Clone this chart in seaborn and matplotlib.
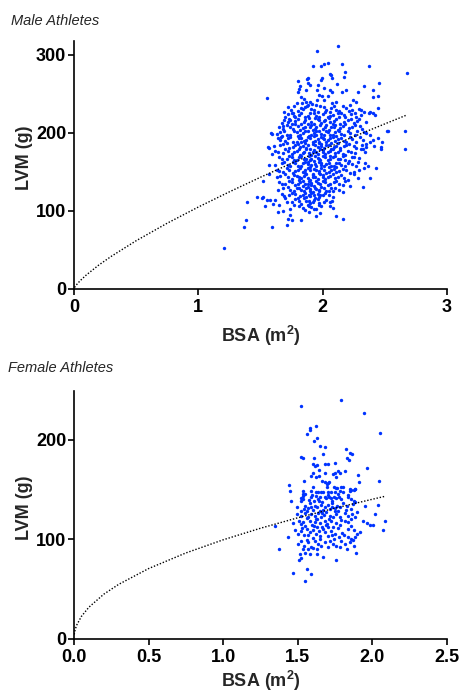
import matplotlib
matplotlib.use("Agg")
import matplotlib.pyplot as plt
import pandas as pd
import seaborn as sns

# LVM vs BSA, athletes

male_points = [
    # outer / sparse points
    (1.206, 52), (1.367, 80), (1.383, 89), (1.388, 112), (1.47, 118), (1.51, 117), (1.522, 118), (1.535, 106),
    (1.549, 114), (1.576, 114), (1.594, 80), (1.602, 109), (1.616, 114), (1.643, 99), (1.651, 108), (1.683, 100),
    (1.710, 82), (1.723, 90), (1.736, 95), (1.750, 88), (1.825, 88), (1.891, 99), (1.945, 93), (1.977, 97),
    (2.111, 94), (2.165, 90), (2.085, 104), (2.058, 111), (2.072, 113), (2.085, 125), (2.160, 124), (2.224, 132),
    (2.326, 131), (2.382, 142), (2.283, 142), (2.256, 147), (2.334, 155), (2.366, 158), (2.251, 169), (2.286, 163),
    (2.326, 180), (2.347, 182), (2.379, 188), (2.414, 183), (2.473, 180), (2.478, 188), (2.663, 179), (2.524, 203),
    (2.663, 203), (2.682, 277), (2.446, 232), (2.111, 240), (2.079, 239), (2.058, 255), (2.079, 252), (2.152, 252),
    (2.186, 255), (2.446, 247), (2.406, 246), (2.288, 253), (2.406, 255), (2.334, 260), (2.454, 264), (2.117, 263),
    (2.066, 274), (2.074, 271), (2.170, 272), (2.178, 278), (2.374, 286), (2.152, 288), (2.125, 312),
    (1.522, 138), (1.568, 159), (1.570, 181), (1.589, 173), (1.551, 245), (1.589, 199), (1.951, 305),
    (1.562, 182), (1.570, 148), (1.583, 200),
    (1.924, 286), (1.986, 286), (2.012, 288), (2.044, 290), (1.884, 271), (1.876, 269), (1.991, 271), (1.983, 268),
    (1.959, 262), (2.058, 275), (1.803, 266), (1.881, 264), (1.897, 262), (1.822, 260), (1.811, 256), (1.801, 253),
    (1.870, 255), (1.956, 255), (2.010, 257), (1.972, 249), (1.991, 247), (2.047, 247), (2.010, 242), (1.951, 242),
    (1.830, 246), (1.851, 244), (1.865, 240), (1.838, 238), (1.897, 240), (1.911, 237), (1.875, 234), (1.825, 232),
    (1.720, 233), (1.690, 227), (1.744, 230), (1.758, 225), (1.768, 222), (1.736, 217), (1.718, 214), (1.683, 205),
    (1.670, 196), (1.662, 195),
    (2.325, 191), (2.352, 200), (2.339, 176), (2.405, 191), (2.419, 223), (2.379, 227), (2.405, 225), (2.312, 230),
    (2.245, 242), (2.271, 240), (2.446, 193), (2.473, 182), (2.432, 155), (2.521, 203),
    # main cloud
    (1.77, 235), (1.84, 231), (1.88, 236), (1.93, 229), (1.98, 234), (2.03, 230), (2.09, 235), (2.13, 228),
    (2.19, 232), (2.24, 229), (2.29, 231), (2.33, 227), (1.80, 228), (1.96, 227), (2.06, 227),
    (1.70, 221), (1.75, 226), (1.81, 223), (1.86, 220), (1.90, 225), (1.95, 222), (2.00, 224), (2.04, 220),
    (2.08, 223), (2.15, 226), (2.18, 221), (2.23, 224), (2.27, 220), (2.31, 223), (2.37, 225),
    (1.67, 213), (1.73, 218), (1.78, 215), (1.83, 212), (1.86, 217), (1.91, 214), (1.94, 219), (1.99, 213),
    (2.02, 217), (2.06, 214), (2.11, 218), (2.14, 212), (2.20, 216), (2.25, 213), (2.29, 218), (2.35, 214),
    (1.97, 216), (2.08, 212),
    (1.65, 207), (1.71, 210), (1.76, 205), (1.80, 209), (1.84, 206), (1.88, 211), (1.92, 204), (1.95, 208),
    (2.00, 205), (2.03, 210), (2.07, 207), (2.12, 204), (2.16, 209), (2.21, 206), (2.26, 210), (2.32, 205),
    (1.90, 207), (2.10, 210),
    (1.63, 199), (1.69, 203), (1.74, 197), (1.79, 201), (1.82, 198), (1.86, 203), (1.89, 196), (1.93, 200),
    (1.97, 202), (2.01, 197), (2.04, 201), (2.08, 198), (2.13, 202), (2.17, 197), (2.22, 200), (2.28, 203),
    (2.38, 198), (1.95, 197), (2.11, 196),
    (1.66, 191), (1.72, 194), (1.76, 189), (1.81, 193), (1.85, 190), (1.88, 195), (1.92, 188), (1.96, 192),
    (1.99, 195), (2.03, 189), (2.06, 193), (2.10, 190), (2.15, 194), (2.19, 189), (2.24, 192), (2.30, 195),
    (1.94, 190), (2.01, 192), (1.83, 188),
    (1.61, 183), (1.68, 186), (1.73, 181), (1.78, 185), (1.82, 182), (1.86, 187), (1.90, 180), (1.94, 184),
    (1.97, 187), (2.01, 181), (2.05, 185), (2.09, 182), (2.12, 187), (2.17, 183), (2.21, 186), (2.27, 181),
    (2.35, 186), (1.88, 184), (1.99, 183), (2.07, 180),
    (1.64, 175), (1.70, 179), (1.75, 173), (1.79, 177), (1.84, 174), (1.87, 179), (1.91, 172), (1.95, 176),
    (1.98, 179), (2.02, 173), (2.06, 177), (2.10, 174), (2.14, 178), (2.18, 172), (2.23, 176), (2.31, 179),
    (1.93, 178), (2.00, 175), (1.82, 172),
    (1.67, 167), (1.73, 171), (1.77, 165), (1.81, 169), (1.85, 166), (1.89, 171), (1.93, 164), (1.96, 168),
    (2.00, 171), (2.04, 165), (2.08, 169), (2.12, 166), (2.16, 170), (2.21, 164), (2.29, 168), (1.91, 167),
    (1.98, 165), (2.06, 171),
    (1.62, 159), (1.69, 163), (1.74, 157), (1.78, 161), (1.83, 158), (1.86, 163), (1.90, 156), (1.94, 160),
    (1.97, 163), (2.01, 157), (2.05, 161), (2.09, 158), (2.13, 162), (2.18, 157), (2.24, 160), (2.34, 162),
    (1.88, 160), (1.99, 159), (2.11, 156),
    (1.65, 151), (1.71, 155), (1.76, 149), (1.80, 153), (1.84, 150), (1.88, 155), (1.92, 148), (1.95, 152),
    (1.99, 155), (2.03, 149), (2.07, 153), (2.11, 150), (2.16, 154), (2.22, 149), (2.29, 152), (1.86, 152),
    (1.97, 149), (2.05, 156),
    (1.63, 143), (1.70, 147), (1.75, 141), (1.79, 145), (1.83, 142), (1.87, 147), (1.90, 140), (1.94, 144),
    (1.98, 147), (2.02, 141), (2.06, 145), (2.10, 142), (2.15, 146), (2.20, 140), (1.92, 146), (2.00, 143),
    (1.81, 140),
    (1.67, 135), (1.73, 139), (1.78, 133), (1.82, 137), (1.86, 134), (1.89, 139), (1.93, 132), (1.96, 136),
    (2.00, 139), (2.04, 133), (2.09, 137), (2.13, 134), (2.18, 138), (1.91, 136), (1.84, 132),
    (1.64, 127), (1.72, 131), (1.77, 125), (1.81, 129), (1.85, 126), (1.88, 131), (1.92, 124), (1.95, 128),
    (1.99, 131), (2.03, 125), (2.07, 129), (2.13, 127), (1.90, 128), (1.97, 125),
    (1.69, 119), (1.75, 123), (1.80, 117), (1.84, 121), (1.87, 118), (1.91, 123), (1.94, 116), (1.98, 120),
    (2.02, 123), (2.08, 118), (1.89, 120), (1.96, 122),
    (1.71, 111), (1.78, 115), (1.83, 109), (1.87, 113), (1.90, 110), (1.93, 114), (1.97, 108), (2.01, 112),
    (1.88, 108),
    (1.74, 103), (1.81, 106), (1.86, 101), (1.91, 105), (1.95, 102), (1.99, 106),
    # in-between points of the dense core
    (1.79, 238), (1.86, 233), (1.91, 231), (1.95, 236), (2.01, 233), (2.07, 232), (2.11, 230), (2.16, 234),
    (2.22, 236),
    (1.72, 224), (1.78, 220), (1.83, 226), (1.88, 222), (1.93, 226), (1.97, 220), (2.02, 227), (2.06, 222),
    (2.12, 225), (2.17, 223), (2.21, 228), (2.26, 226),
    (1.69, 216), (1.75, 212), (1.80, 218), (1.85, 214), (1.89, 219), (1.93, 212), (1.96, 218), (2.01, 215),
    (2.05, 219), (2.09, 215), (2.13, 220), (2.17, 214), (2.23, 218), (2.28, 215),
    (1.68, 209), (1.74, 207), (1.78, 211), (1.82, 204), (1.86, 208), (1.91, 210), (1.94, 205), (1.98, 210),
    (2.02, 207), (2.05, 204), (2.09, 208), (2.14, 206), (2.18, 211), (2.24, 207), (2.30, 209),
    (1.66, 201), (1.71, 198), (1.77, 203), (1.80, 196), (1.84, 200), (1.88, 202), (1.91, 198), (1.95, 203),
    (1.99, 199), (2.03, 203), (2.06, 197), (2.10, 201), (2.15, 199), (2.20, 203), (2.26, 198), (2.33, 201),
    (1.64, 193), (1.70, 190), (1.74, 195), (1.79, 189), (1.83, 194), (1.87, 191), (1.90, 194), (1.93, 196),
    (1.97, 189), (2.00, 194), (2.04, 191), (2.08, 195), (2.12, 192), (2.17, 190), (2.22, 195), (2.27, 189),
    (1.66, 184), (1.71, 187), (1.76, 182), (1.80, 186), (1.84, 183), (1.87, 181), (1.92, 186), (1.96, 182),
    (1.99, 186), (2.03, 184), (2.07, 187), (2.11, 183), (2.14, 181), (2.19, 185), (2.25, 183), (2.32, 184),
    (1.62, 177), (1.68, 174), (1.72, 177), (1.77, 175), (1.81, 179), (1.85, 176), (1.89, 174), (1.92, 176),
    (1.96, 173), (2.00, 178), (2.04, 175), (2.08, 179), (2.12, 176), (2.16, 173), (2.20, 177), (2.26, 174),
    (1.65, 169), (1.71, 166), (1.75, 169), (1.79, 165), (1.83, 170), (1.87, 167), (1.90, 165), (1.94, 170),
    (1.97, 167), (2.02, 169), (2.06, 166), (2.10, 170), (2.14, 167), (2.18, 165), (2.24, 169),
    (1.67, 161), (1.72, 159), (1.76, 163), (1.80, 158), (1.84, 161), (1.88, 163), (1.91, 159), (1.95, 157),
    (1.99, 162), (2.03, 160), (2.07, 157), (2.11, 161), (2.15, 159), (2.20, 162), (2.27, 158),
    (1.63, 153), (1.68, 150), (1.73, 153), (1.78, 151), (1.82, 155), (1.86, 149), (1.90, 152), (1.93, 154),
    (1.97, 151), (2.01, 153), (2.05, 150), (2.09, 154), (2.13, 151), (2.19, 153), (2.25, 150),
    (1.66, 145), (1.72, 143), (1.77, 146), (1.81, 143), (1.85, 145), (1.88, 142), (1.92, 143), (1.96, 141),
    (2.00, 146), (2.04, 143), (2.08, 147), (2.12, 144), (2.17, 142),
    (1.65, 137), (1.70, 134), (1.75, 137), (1.80, 135), (1.84, 138), (1.88, 135), (1.91, 133), (1.95, 138),
    (1.98, 134), (2.02, 137), (2.06, 135), (2.11, 138), (2.16, 133),
    (1.68, 129), (1.74, 127), (1.79, 130), (1.83, 127), (1.87, 129), (1.90, 125), (1.94, 130), (1.97, 127),
    (2.01, 129), (2.05, 126), (2.10, 130),
    (1.67, 122), (1.73, 120), (1.78, 122), (1.82, 119), (1.86, 123), (1.90, 119), (1.93, 121), (1.97, 118),
    (2.00, 121), (2.05, 120),
    (1.70, 116), (1.75, 112), (1.81, 113), (1.85, 116), (1.89, 113), (1.92, 111), (1.96, 115), (2.03, 114),
    (1.77, 108), (1.84, 104), (1.89, 107), (1.93, 103), (1.97, 110), (2.06, 106),
]

female_points = [
    (1.792, 240), (1.521, 234), (1.942, 227), (2.053, 207), (1.582, 212), (1.582, 210), (1.622, 214), (1.564, 206),
    (1.631, 202), (1.611, 199), (1.821, 191), (1.651, 194), (1.682, 193), (1.850, 187), (1.861, 186), (1.671, 186),
    (1.521, 183), (1.533, 182), (1.611, 182), (1.830, 182), (1.843, 180), (1.747, 177), (1.602, 176), (1.613, 174),
    (1.631, 175), (1.682, 176), (1.702, 176), (1.966, 172), (1.642, 170), (1.600, 167), (1.682, 167), (1.738, 166),
    (1.747, 167), (1.767, 169), (1.781, 167), (1.814, 169), (1.591, 164), (1.622, 163), (1.642, 164), (1.754, 163),
    (1.903, 165), (1.542, 159), (1.662, 159), (1.682, 158), (1.711, 158), (1.693, 156), (1.702, 157), (1.912, 158),
    (2.046, 159), (1.443, 155), (1.602, 153), (1.693, 153), (1.743, 153), (1.761, 151), (1.792, 153), (1.801, 153),
    (1.852, 150), (1.883, 150),
    (1.446, 148), (1.533, 148), (1.533, 145), (1.537, 143), (1.591, 148), (1.595, 144), (1.624, 147), (1.635, 147),
    (1.658, 147), (1.669, 147), (1.702, 147), (1.725, 147), (1.747, 147), (1.758, 151), (1.781, 148), (1.803, 147),
    (1.848, 148), (1.859, 149), (1.877, 149), (1.885, 150), (1.452, 138), (1.519, 141), (1.535, 140), (1.523, 138),
    (1.573, 139), (1.591, 142), (1.609, 138), (1.635, 140), (1.647, 142), (1.680, 142), (1.691, 141), (1.707, 142),
    (1.725, 141), (1.743, 142), (1.758, 141), (1.774, 142), (1.792, 140), (1.836, 142), (1.855, 140), (1.877, 138),
    (1.885, 137), (1.493, 132), (1.551, 133), (1.542, 130), (1.568, 131), (1.591, 132), (1.613, 133), (1.631, 132),
    (1.647, 128), (1.658, 134), (1.680, 132), (1.702, 134), (1.713, 130), (1.729, 132), (1.747, 131), (1.765, 133),
    (1.781, 132), (1.828, 133), (1.855, 130), (1.948, 133), (2.038, 134), (1.497, 125), (1.523, 123), (1.546, 126),
    (1.568, 122), (1.591, 125), (1.613, 123), (1.635, 126), (1.653, 122), (1.676, 124), (1.691, 127), (1.713, 123),
    (1.736, 122), (1.758, 125), (1.781, 122), (1.814, 126), (1.836, 123), (1.863, 125), (1.885, 122), (2.020, 125),
    (1.349, 113), (1.470, 116), (1.506, 118), (1.519, 115), (1.535, 117), (1.551, 113), (1.579, 118), (1.595, 114),
    (1.613, 117), (1.631, 112), (1.647, 116), (1.662, 112), (1.680, 118), (1.698, 115), (1.721, 118), (1.738, 112),
    (1.758, 116), (1.781, 114), (1.818, 118), (1.836, 117), (1.855, 113), (1.935, 118), (1.962, 116), (1.984, 114),
    (2.006, 114), (2.082, 118), (2.071, 109), (1.434, 102), (1.483, 109), (1.501, 105), (1.523, 108), (1.542, 104),
    (1.564, 110), (1.579, 107), (1.602, 109), (1.620, 105), (1.640, 108), (1.669, 110), (1.684, 107), (1.702, 103),
    (1.725, 108), (1.747, 105), (1.774, 102), (1.796, 106), (1.836, 102), (1.855, 100), (1.885, 102), (1.899, 105),
    (1.915, 107), (1.501, 95), (1.523, 98), (1.542, 93), (1.568, 97), (1.586, 92), (1.613, 98), (1.635, 95),
    (1.658, 93), (1.684, 97), (1.713, 98), (1.736, 95), (1.758, 93), (1.781, 92), (1.814, 95), (1.848, 97),
    (1.877, 93), (1.372, 90), (1.535, 90), (1.513, 85), (1.519, 81), (1.546, 86), (1.568, 90), (1.579, 85),
    (1.506, 79), (1.631, 90), (1.631, 85), (1.669, 82), (1.754, 79), (1.892, 86), (1.564, 70), (1.591, 65),
    (1.470, 66), (1.551, 58),
    (1.56, 128), (1.62, 120), (1.66, 126), (1.70, 112), (1.73, 136), (1.77, 128), (1.60, 101), (1.64, 138),
    (1.55, 145), (1.58, 136), (1.62, 143), (1.66, 137), (1.70, 144), (1.73, 138), (1.77, 145), (1.80, 136),
    (1.84, 144), (1.87, 135), (1.52, 128), (1.56, 121), (1.60, 129), (1.63, 120), (1.67, 129), (1.71, 120),
    (1.75, 128), (1.79, 119), (1.82, 129), (1.86, 120), (1.90, 127), (1.53, 111), (1.57, 104), (1.61, 113),
    (1.65, 103), (1.69, 114), (1.73, 104), (1.77, 111), (1.81, 104), (1.84, 110), (1.88, 109), (1.56, 99),
    (1.60, 91), (1.65, 100), (1.70, 92), (1.74, 100), (1.79, 98), (1.83, 90), (1.87, 99),
]

# fitted allometric curves
male_fit_bsa = [0.005, 0.02, 0.05, 0.1, 0.2, 0.3, 0.5, 0.75, 1.0, 1.25, 1.5, 1.75, 2.0, 2.25, 2.5, 2.68]
male_fit_lvm = [2.0, 5.3, 10.6, 18.0, 30.7, 41.8, 61.8, 84.3, 105.0, 124.5, 143.2, 161.1, 178.4, 195.3, 211.6, 223.2]
female_fit_bsa = [0.002, 0.005, 0.01, 0.02, 0.05, 0.1, 0.2, 0.3, 0.5, 0.75, 1.0, 1.25, 1.5, 1.75, 2.0, 2.08]
female_fit_lvm = [4.5, 7.2, 10.2, 14.3, 22.6, 31.8, 44.9, 54.8, 70.6, 86.3, 99.5, 111.1, 121.6, 131.3, 140.2, 143.0]

male_xticks = [0, 1, 2, 3]
male_yticks = [0, 100, 200, 300]
female_xticks = [0.0, 0.5, 1.0, 1.5, 2.0, 2.5]
female_yticks = [0, 100, 200]

sns.set_style("ticks")
plt.rcParams["font.family"] = ["Liberation Sans", "DejaVu Sans"]
plt.rcParams["font.weight"] = "bold"
plt.rcParams["mathtext.fontset"] = "custom"
plt.rcParams["mathtext.rm"] = "Liberation Sans:bold"
plt.rcParams["mathtext.bf"] = "Liberation Sans:bold"

POINT_COLOR = "#0033ff"


def draw_panel(ax, points, fit_x, fit_y, xlim, ylim, xticks, yticks, xfmt, xlabelpad):
    df = pd.DataFrame(points, columns=["bsa", "lvm"])
    sns.scatterplot(data=df, x="bsa", y="lvm", ax=ax, s=6, color=POINT_COLOR,
                    linewidth=0, zorder=2)
    sns.lineplot(x=fit_x, y=fit_y, ax=ax, color="black", linewidth=1.0,
                 linestyle=(0, (1, 1.3)), estimator=None, sort=False, zorder=3)
    ax.set_xlim(*xlim)
    ax.set_ylim(*ylim)
    ax.set_xticks(xticks)
    ax.set_xticklabels([xfmt.format(t) for t in xticks])
    ax.set_yticks(yticks)
    ax.set_yticklabels([str(t) for t in yticks])
    sns.despine(ax=ax)
    for side in ["left", "bottom"]:
        ax.spines[side].set_linewidth(1.2)
        ax.spines[side].set_color("black")
    ax.tick_params(axis="both", direction="out", length=4, width=1.2, colors="black",
                   labelsize=13)
    ax.tick_params(axis="x", pad=3)
    ax.tick_params(axis="y", pad=1.5)
    for lab in ax.get_xticklabels() + ax.get_yticklabels():
        lab.set_fontweight("bold")
    ax.set_xlabel(r"BSA (m$^{\mathbf{2}}$)", fontsize=13, fontweight="bold", labelpad=xlabelpad)
    ax.set_ylabel("LVM (g)", fontsize=13, fontweight="bold")
    ax.yaxis.set_label_coords(-0.11, 0.53)


fig = plt.figure(figsize=(4.62, 6.93), dpi=100)
ax_m = fig.add_axes([0.160, 0.583, 0.8075, 0.358])
ax_f = fig.add_axes([0.160, 0.078, 0.8075, 0.358])

draw_panel(ax_m, male_points, male_fit_bsa, male_fit_lvm, (0, 3), (0, 318),
           male_xticks, male_yticks, "{:d}", 6)
draw_panel(ax_f, female_points, female_fit_bsa, female_fit_lvm, (0, 2.5), (0, 249),
           female_xticks, female_yticks, "{:.1f}", 2.5)

fig.text(11 / 462, 1 - 21 / 693, "Male Athletes", fontsize=10.5, fontstyle="italic",
         fontweight="normal", va="center", ha="left")
fig.text(8 / 462, 1 - 368 / 693, "Female Athletes", fontsize=10.5, fontstyle="italic",
         fontweight="normal", va="center", ha="left")

fig.savefig("out.png", dpi=100)
